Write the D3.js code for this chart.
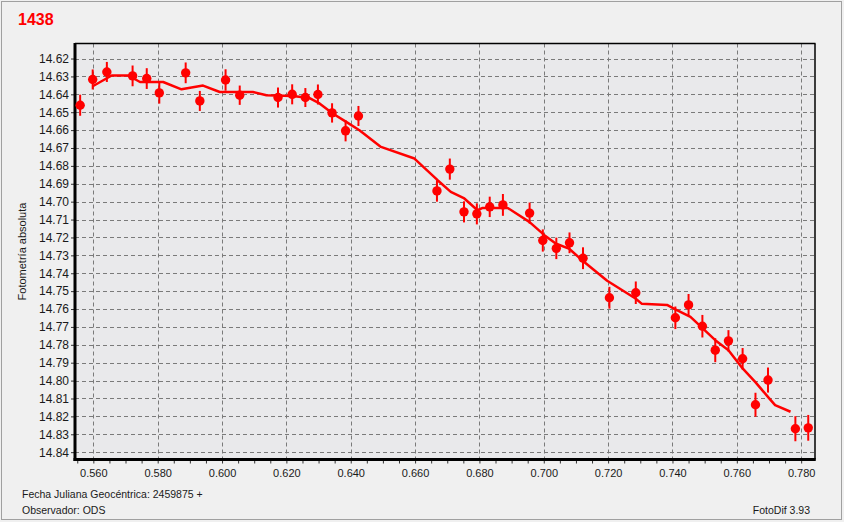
<!DOCTYPE html>
<html>
<head>
<meta charset="utf-8">
<script src="https://cdn.jsdelivr.net/npm/d3@7/dist/d3.min.js"></script>
<style>
  html, body { margin: 0; padding: 0; background: #f0f0f0; }
  svg { display: block; }
  text { font-family: "Liberation Sans", Arial, sans-serif; }
</style>
</head>
<body>
<script>
// ---- Data ----
const obsJD = [0.5559, 0.5598, 0.5642, 0.5722, 0.5766, 0.5805, 0.5887, 0.5931, 0.6011, 0.6055,
  0.6174, 0.6218, 0.6259, 0.6298, 0.6342, 0.6384, 0.6424, 0.6668, 0.6708, 0.6752,
  0.6792, 0.6832, 0.6873, 0.6956, 0.6997, 0.7039, 0.7080, 0.7122, 0.7204, 0.7286,
  0.7409, 0.7450, 0.7493, 0.7533, 0.7574, 0.7618, 0.7658, 0.7697, 0.7782, 0.7822];
const obsMag = [14.6461, 14.6317, 14.6275, 14.6297, 14.6312, 14.6392, 14.6280, 14.6437, 14.6320, 14.6405,
  14.6418, 14.6400, 14.6418, 14.6401, 14.6504, 14.6604, 14.6521, 14.6940, 14.6818, 14.7057,
  14.7068, 14.7029, 14.7018, 14.7064, 14.7217, 14.7261, 14.7230, 14.7316, 14.7537, 14.7509,
  14.7649, 14.7577, 14.7696, 14.7830, 14.7778, 14.7878, 14.8135, 14.7997, 14.8269, 14.8264];
const obsErr = [0.0059, 0.0056, 0.0056, 0.0058, 0.0058, 0.0060, 0.0058, 0.0056, 0.0060, 0.0054,
  0.0056, 0.0056, 0.0053, 0.0056, 0.0054, 0.0059, 0.0056, 0.0060, 0.0059, 0.0059,
  0.0059, 0.0057, 0.0061, 0.0059, 0.0062, 0.0060, 0.0058, 0.0061, 0.0061, 0.0063,
  0.0063, 0.0061, 0.0063, 0.0067, 0.0060, 0.0060, 0.0067, 0.0070, 0.0070, 0.0072];

const fitJD = [0.5598, 0.5657, 0.5709, 0.5745, 0.5817, 0.5874, 0.5941, 0.5993, 0.6096, 0.6138,
  0.6220, 0.6272, 0.6303, 0.6344, 0.6386, 0.6427, 0.6494, 0.6598, 0.6670, 0.6711,
  0.6753, 0.6794, 0.6810, 0.6888, 0.6955, 0.7002, 0.7037, 0.7078, 0.7119, 0.7197,
  0.7285, 0.7305, 0.7383, 0.7409, 0.7456, 0.7533, 0.7574, 0.7618, 0.7657, 0.7698,
  0.7719, 0.7767];
const fitMag = [14.6355, 14.6295, 14.6295, 14.6331, 14.6331, 14.6372, 14.6351, 14.6387, 14.6387, 14.6405,
  14.6409, 14.6421, 14.6451, 14.6507, 14.6554, 14.6601, 14.6694, 14.6759, 14.6880, 14.6945,
  14.6982, 14.7048, 14.7035, 14.7035, 14.7113, 14.7187, 14.7234, 14.7262, 14.7327, 14.7442,
  14.7541, 14.7571, 14.7577, 14.7602, 14.7644, 14.7774, 14.7830, 14.7932, 14.8007, 14.8094,
  14.8137, 14.8174];

const yTickLabels = ["14.62","14.63","14.64","14.65","14.66","14.67","14.68","14.69","14.70","14.71",
  "14.72","14.73","14.74","14.75","14.76","14.77","14.78","14.79","14.80","14.81","14.82","14.83","14.84"];
const xTickLabels = ["0.560","0.580","0.600","0.620","0.640","0.660","0.680","0.700","0.720","0.740","0.760","0.780"];

const titleText = "1438";
const yAxisTitle = "Fotometría absoluta";
const footerLeft1 = "Fecha Juliana Geocéntrica: 2459875 +";
const footerLeft2 = "Observador: ODS";
const footerRight = "FotoDif 3.93";

// ---- Layout ----
const W = 844, H = 522;
const plot = { left: 75, right: 815, top: 43.5, bottom: 459.5 };
const red = "#ff0000";

const svg = d3.select("body").append("svg").attr("width", W).attr("height", H);

// window background and frame
svg.append("rect").attr("x", 0).attr("y", 0).attr("width", W).attr("height", H).attr("fill", "#f0f0f0");
svg.append("rect").attr("x", 1.5).attr("y", 1.5).attr("width", W - 4).attr("height", H - 4)
  .attr("fill", "none").attr("stroke", "#a0a0a0").attr("stroke-width", 1);

const x = d3.scaleLinear().domain([0.5543, 0.7843]).range([plot.left, plot.right]);
const y = d3.scaleLinear().domain([14.6116, 14.8441]).range([plot.top, plot.bottom]);

// plot background
svg.append("rect").attr("x", plot.left).attr("y", plot.top)
  .attr("width", plot.right - plot.left).attr("height", plot.bottom - plot.top)
  .attr("fill", "#e9e9eb");

// gridlines
const yTicks = yTickLabels.map(Number);
const xTicks = xTickLabels.map(Number);
const grid = svg.append("g").attr("stroke", "#7a7a7a").attr("stroke-width", 1).attr("stroke-dasharray", "4,3");
grid.selectAll("line.h").data(yTicks).join("line").attr("class", "h")
  .attr("x1", plot.left).attr("x2", plot.right)
  .attr("y1", d => Math.round(y(d)) + 0.5).attr("y2", d => Math.round(y(d)) + 0.5);
grid.selectAll("line.v").data(xTicks).join("line").attr("class", "v")
  .attr("y1", plot.top).attr("y2", plot.bottom)
  .attr("x1", d => Math.round(x(d)) + 0.5).attr("x2", d => Math.round(x(d)) + 0.5);

// frame: thin top/right, thick left/bottom
svg.append("line").attr("x1", plot.left).attr("x2", plot.right + 0.5).attr("y1", plot.top).attr("y2", plot.top)
  .attr("stroke", "#000").attr("stroke-width", 1.5);
svg.append("line").attr("x1", plot.right).attr("x2", plot.right).attr("y1", plot.top).attr("y2", plot.bottom)
  .attr("stroke", "#000").attr("stroke-width", 1.5);

// y axis
const yAxis = d3.axisLeft(y).tickValues(yTicks).tickSize(4).tickPadding(2)
  .tickFormat((d, i) => yTickLabels[i]);
const gy = svg.append("g").attr("transform", `translate(${plot.left},0)`).call(yAxis);
gy.select(".domain").remove();
gy.selectAll(".tick line").attr("stroke", "#333");
gy.selectAll(".tick text").attr("font-size", "12px").attr("fill", "#1a1a1a")
  .attr("font-family", "'Liberation Sans', Arial, sans-serif");

// x axis: minor ticks every 0.005, labels every 0.02
const xMinor = d3.range(111, 157).map(i => +(i * 0.005).toFixed(3)).filter(v => v > 0.5543 && v < 0.7843);
const xAxis = d3.axisBottom(x).tickValues(xMinor).tickSize(4).tickPadding(6)
  .tickFormat(d => { const k = xTickLabels.indexOf(d.toFixed(3)); return k >= 0 ? xTickLabels[k] : ""; });
const gx = svg.append("g").attr("transform", `translate(0,${plot.bottom})`).call(xAxis);
gx.select(".domain").remove();
gx.selectAll(".tick line").attr("stroke", "#333");
gx.selectAll(".tick text").attr("font-size", "11px").attr("fill", "#1a1a1a")
  .attr("font-family", "'Liberation Sans', Arial, sans-serif");

// thick left and bottom axis lines
svg.append("line").attr("x1", plot.left).attr("x2", plot.left).attr("y1", plot.top - 0.5).attr("y2", plot.bottom + 1.5)
  .attr("stroke", "#000").attr("stroke-width", 3);
svg.append("line").attr("x1", plot.left - 1.5).attr("x2", plot.right + 0.75).attr("y1", plot.bottom).attr("y2", plot.bottom)
  .attr("stroke", "#000").attr("stroke-width", 3);

// fit line
const line = d3.line().x(d => x(d[0])).y(d => y(d[1]));
svg.append("path").datum(fitJD.map((d, i) => [d, fitMag[i]]))
  .attr("d", line).attr("fill", "none").attr("stroke", red).attr("stroke-width", 2.5)
  .attr("stroke-linejoin", "round");

// observations
const obs = obsJD.map((d, i) => ({ jd: d, mag: obsMag[i], err: obsErr[i] }));
const gObs = svg.append("g");
gObs.selectAll("line.err").data(obs).join("line").attr("class", "err")
  .attr("x1", d => x(d.jd)).attr("x2", d => x(d.jd))
  .attr("y1", d => y(d.mag - d.err)).attr("y2", d => y(d.mag + d.err))
  .attr("stroke", red).attr("stroke-width", 2);
gObs.selectAll("circle").data(obs).join("circle")
  .attr("cx", d => x(d.jd)).attr("cy", d => y(d.mag)).attr("r", 4.7)
  .attr("fill", red);

// title
svg.append("text").attr("x", 18).attr("y", 25).text(titleText)
  .attr("font-size", "16px").attr("font-weight", "bold").attr("fill", red);

// y axis title
svg.append("text").attr("transform", `translate(26,${(plot.top + plot.bottom) / 2}) rotate(-90)`)
  .attr("text-anchor", "middle").attr("font-size", "11px").attr("fill", "#1a1a1a").text(yAxisTitle);

// footer texts
svg.append("text").attr("x", 22).attr("y", 498).attr("font-size", "10.5px").attr("fill", "#1a1a1a").text(footerLeft1);
svg.append("text").attr("x", 22).attr("y", 514).attr("font-size", "10.5px").attr("fill", "#1a1a1a").text(footerLeft2);
svg.append("text").attr("x", 810).attr("y", 514).attr("text-anchor", "end").attr("font-size", "10.5px").attr("fill", "#1a1a1a").text(footerRight);
</script>
</body>
</html>
